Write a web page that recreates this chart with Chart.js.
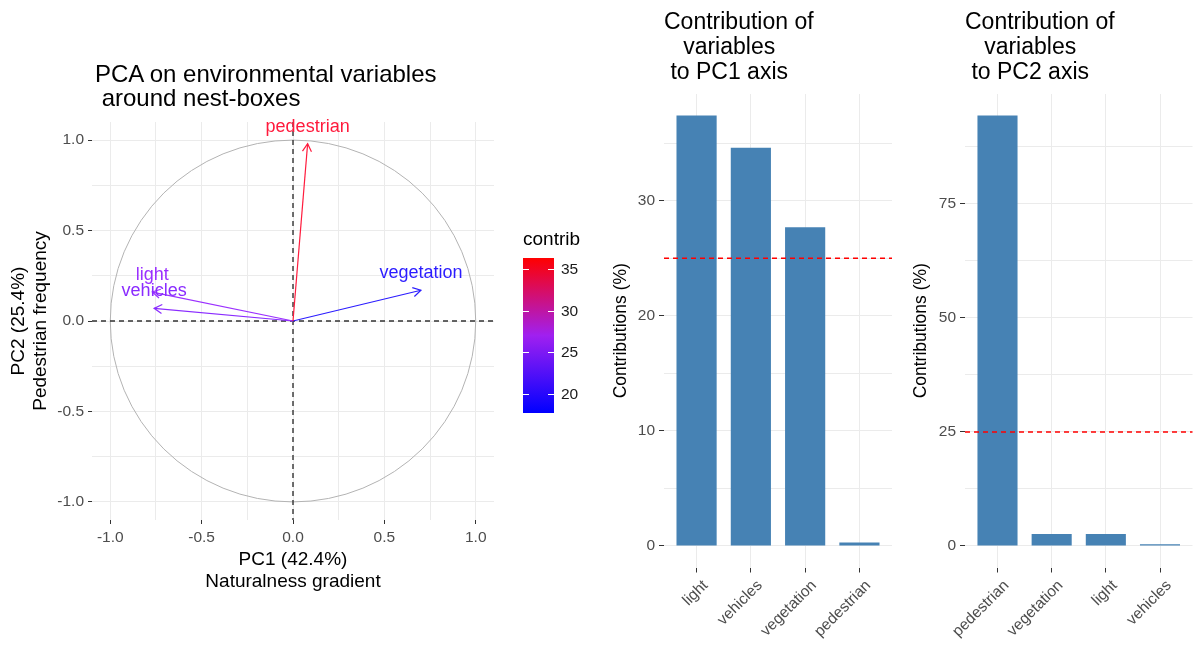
<!DOCTYPE html>
<html lang="en">
<head>
  <meta charset="UTF-8">
  <title>PCA on environmental variables around nest-boxes</title>
  <script src="https://cdn.jsdelivr.net/npm/chart.js@4.4.0/dist/chart.umd.min.js"></script>
  <style>
    body {
      margin: 0;
      background: #fff;
      font-family: "Liberation Sans", Arial, sans-serif;
    }
    #wrap {
      position: relative;
      width: 1196px;
      height: 653px;
      overflow: hidden;
    }
    .panel {
      position: absolute;
      top: 0;
      height: 653px;
    }
    .title {
      position: absolute;
      white-space: pre;
      color: #000;
    }
  </style>
</head>
<body>
  <div id="wrap">
    <div class="panel" style="left:0;width:600px"><canvas id="pca"></canvas></div>
    <div class="panel" style="left:600px;width:300px"><canvas id="pc1"></canvas></div>
    <div class="panel" style="left:900px;width:296px"><canvas id="pc2"></canvas></div>
    <div class="title" style="left:95px;top:62px;font-size:24px;line-height:24px">PCA on environmental variables
 around nest-boxes</div>
    <div class="title" style="left:664px;top:9px;font-size:23px;line-height:25px">Contribution of
   variables
 to PC1 axis</div>
    <div class="title" style="left:965px;top:9px;font-size:23px;line-height:25px">Contribution of
   variables
 to PC2 axis</div>
  </div>
  <script>
    // variable coordinates on the first two axes (correlation circle)
    const pcaVars = ['pedestrian', 'light', 'vehicles', 'vegetation'];
    const pc1Coord = [0.08, -0.77, -0.76, 0.70];
    const pc2Coord = [0.98, 0.16, 0.07, 0.17];
    const varContrib = [35.6, 24.4, 21.8, 18.3];
    const contribTicks = [20, 25, 30, 35];

    // contributions to each axis, sorted
    const pc1Vars = ['light', 'vehicles', 'vegetation', 'pedestrian'];
    const pc1Contrib = [37.4, 34.6, 27.7, 0.3];
    const pc2Vars = ['pedestrian', 'vegetation', 'light', 'vehicles'];
    const pc2Contrib = [94.4, 2.6, 2.6, 0.4];
    const expectedContrib = 25;

    const FONT = '"Liberation Sans", Arial, sans-serif';
    Chart.defaults.font.family = FONT;

    const arrowColors = ['#ff1a3c', '#9b30ff', '#8a2bff', '#2b1cff'];
    const cbMin = 17.7, cbMax = 36.3;

    function isMajor(v, m) {
      return Math.abs(v / m - Math.round(v / m)) < 1e-6;
    }

    const pcaDecor = {
      id: 'pcaDecor',
      beforeDatasetsDraw(chart) {
        const {ctx, chartArea: a, scales: {x, y}} = chart;
        const cx = x.getPixelForValue(0), cy = y.getPixelForValue(0);
        ctx.save();
        ctx.strokeStyle = '#b3b3b3';
        ctx.lineWidth = 1;
        ctx.beginPath();
        ctx.ellipse(cx, cy, x.getPixelForValue(1) - cx, cy - y.getPixelForValue(1), 0, 0, 2 * Math.PI);
        ctx.stroke();
        ctx.strokeStyle = '#333';
        ctx.lineWidth = 1.4;
        ctx.setLineDash([5, 4]);
        ctx.beginPath();
        ctx.moveTo(a.left, cy); ctx.lineTo(a.right, cy);
        ctx.moveTo(cx, a.top); ctx.lineTo(cx, a.bottom);
        ctx.stroke();
        ctx.restore();
      },
      afterDatasetsDraw(chart) {
        const ctx = chart.ctx;
        ctx.save();
        chart.data.datasets.forEach((ds, i) => {
          const pts = chart.getDatasetMeta(i).data;
          const p0 = pts[0], p1 = pts[1];
          const ang = Math.atan2(p1.y - p0.y, p1.x - p0.x);
          const L = 9, w = Math.PI / 6;
          ctx.strokeStyle = ds.borderColor;
          ctx.lineWidth = 1.2;
          ctx.beginPath();
          ctx.moveTo(p1.x - L * Math.cos(ang - w), p1.y - L * Math.sin(ang - w));
          ctx.lineTo(p1.x, p1.y);
          ctx.lineTo(p1.x - L * Math.cos(ang + w), p1.y - L * Math.sin(ang + w));
          ctx.stroke();
          ctx.fillStyle = ds.borderColor;
          ctx.font = '18px ' + FONT;
          ctx.textAlign = 'center';
          ctx.textBaseline = 'middle';
          ctx.fillText(ds.label, p1.x, p1.y - 17);
        });
        ctx.restore();
      },
      afterDraw(chart) {
        // colour bar legend
        const ctx = chart.ctx;
        const bx = 523, bw = 31, top = 258, bot = 413;
        const yOf = v => bot - (v - cbMin) / (cbMax - cbMin) * (bot - top);
        ctx.save();
        const g = ctx.createLinearGradient(0, bot, 0, top);
        g.addColorStop(0, '#0000ff');
        g.addColorStop(0.5, '#a020f0');
        g.addColorStop(1, '#ff0000');
        ctx.fillStyle = g;
        ctx.fillRect(bx, top, bw, bot - top);
        ctx.strokeStyle = '#fff';
        ctx.lineWidth = 1;
        ctx.font = '15.5px ' + FONT;
        ctx.fillStyle = '#1a1a1a';
        ctx.textAlign = 'left';
        ctx.textBaseline = 'middle';
        contribTicks.forEach(t => {
          const ty = Math.round(yOf(t)) + 0.5;
          ctx.beginPath();
          ctx.moveTo(bx, ty); ctx.lineTo(bx + 6, ty);
          ctx.moveTo(bx + bw - 6, ty); ctx.lineTo(bx + bw, ty);
          ctx.stroke();
          ctx.fillText(String(t), bx + bw + 7, ty);
        });
        ctx.font = '19px ' + FONT;
        ctx.fillStyle = '#000';
        ctx.fillText('contrib', bx, 240);
        ctx.restore();
      }
    };

    const pcaTicks = {
      stepSize: 0.25,
      includeBounds: false,
      autoSkip: false,
      maxRotation: 0,
      color: '#4d4d4d',
      font: {size: 15.5},
      padding: 4,
      callback: v => isMajor(v, 0.5) ? v.toFixed(1) : ''
    };
    const pcaGrid = {
      color: '#ebebeb',
      tickColor: c => isMajor(c.tick.value, 0.5) ? '#333' : 'rgba(0,0,0,0)',
      tickLength: 4
    };

    new Chart(document.getElementById('pca'), {
      type: 'scatter',
      data: {
        datasets: pcaVars.map((v, i) => ({
          label: v,
          data: [{x: 0, y: 0}, {x: pc1Coord[i], y: pc2Coord[i]}],
          showLine: true,
          borderColor: arrowColors[i],
          borderWidth: 1.2,
          pointRadius: 0,
          fill: false
        }))
      },
      options: {
        responsive: true,
        maintainAspectRatio: false,
        animation: false,
        layout: {padding: {left: 0, right: 106, top: 122, bottom: 0}},
        plugins: {legend: {display: false}, tooltip: {enabled: false}},
        scales: {
          x: {
            type: 'linear', min: -1.1, max: 1.1,
            afterFit: s => { s.height = 133; },
            ticks: pcaTicks, grid: pcaGrid, border: {display: false},
            title: {display: true, text: ['PC1 (42.4%)', 'Naturalness gradient'], color: '#000',
                    font: {size: 19, lineHeight: 1.15}, padding: {top: 0, bottom: 60}}
          },
          y: {
            type: 'linear', min: -1.1, max: 1.1,
            afterFit: s => { s.width = 92; },
            ticks: pcaTicks, grid: pcaGrid, border: {display: false},
            title: {display: true, text: ['PC2 (25.4%)', 'Pedestrian frequency'], color: '#000',
                    font: {size: 19, lineHeight: 1.15}, padding: {top: 8, bottom: 0}}
          }
        }
      },
      plugins: [pcaDecor]
    });

    const refLine = {
      id: 'refLine',
      afterDatasetsDraw(chart) {
        const {ctx, chartArea: a, scales: {y}} = chart;
        const py = y.getPixelForValue(expectedContrib);
        ctx.save();
        ctx.strokeStyle = '#ff0000';
        ctx.lineWidth = 1.3;
        ctx.setLineDash([5, 4]);
        ctx.beginPath();
        ctx.moveTo(a.left, py); ctx.lineTo(a.right, py);
        ctx.stroke();
        ctx.restore();
      }
    };

    function contribChart(id, cats, vals, step, major, axisWidth, padRight) {
      const top = Math.max(...vals);
      return new Chart(document.getElementById(id), {
        type: 'bar',
        data: {
          datasets: [{
            data: cats.map((c, i) => ({x: i, y: vals[i]})),
            backgroundColor: '#4682b4',
            borderWidth: 0,
            categoryPercentage: 1,
            barPercentage: 0.74
          }]
        },
        options: {
          responsive: true,
          maintainAspectRatio: false,
          animation: false,
          layout: {padding: {left: 0, right: padRight, top: 94, bottom: 0}},
          plugins: {legend: {display: false}, tooltip: {enabled: false}},
          scales: {
            x: {
              type: 'linear', min: -0.6, max: cats.length - 0.4, offset: false,
              afterFit: s => { s.height = 85.5; },
              ticks: {stepSize: 1, includeBounds: false, autoSkip: false, minRotation: 45, maxRotation: 45,
                      padding: 4, labelOffset: 9, color: '#4d4d4d', font: {size: 15.5}, callback: v => cats[v]},
              grid: {offset: false, color: '#ebebeb', tickColor: '#333', tickLength: 5},
              border: {display: false}
            },
            y: {
              min: -0.05 * top, max: 1.05 * top,
              afterFit: s => { s.width = axisWidth; },
              ticks: {stepSize: step, includeBounds: false, color: '#4d4d4d', font: {size: 15.5}, padding: 4,
                      callback: v => isMajor(v, major) ? v : ''},
              grid: {color: '#ebebeb', tickLength: 5,
                     tickColor: c => isMajor(c.tick.value, major) ? '#333' : 'rgba(0,0,0,0)'},
              border: {display: false},
              title: {display: true, text: 'Contributions (%)', color: '#000', font: {size: 17.5},
                      padding: {top: 11, bottom: 0}}
            }
          }
        },
        plugins: [refLine]
      });
    }

    contribChart('pc1', pc1Vars, pc1Contrib, 5, 10, 64, 8);
    contribChart('pc2', pc2Vars, pc2Contrib, 12.5, 25, 65, 3.5);
  </script>
</body>
</html>
